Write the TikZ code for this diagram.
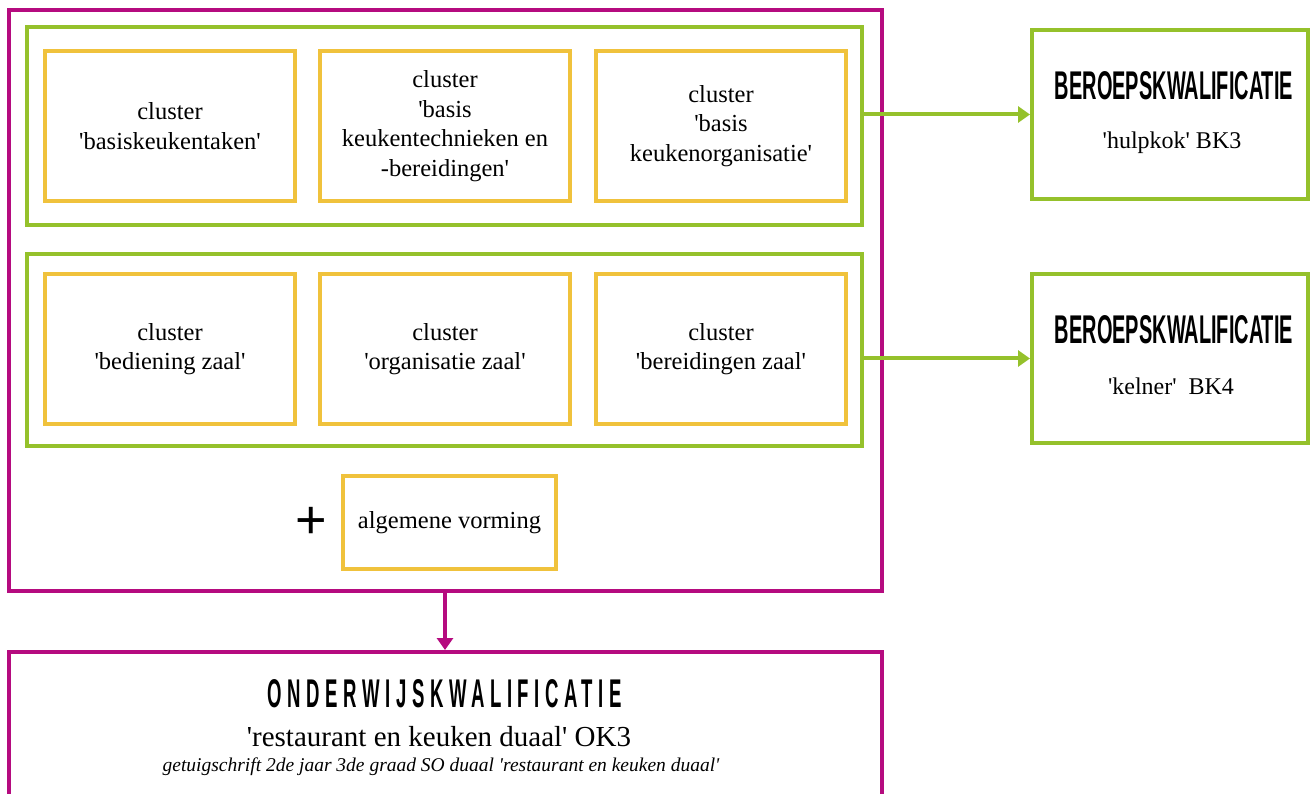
\documentclass[tikz,border=0pt]{standalone}
\usepackage{fontspec}
\setmainfont{Liberation Serif}[Ligatures=TeXOff]
\newfontfamily\kopfont{Liberation Sans}[Ligatures=TeXOff]
\newfontfamily\kopfontspatie{Liberation Sans}[Ligatures=TeXOff,LetterSpace=30]
\usetikzlibrary{arrows.meta}
\definecolor{roze}{RGB}{181,11,127}
\definecolor{groen}{RGB}{149,193,43}
\definecolor{geel}{RGB}{240,194,60}
\newcommand{\kop}[3]{\resizebox{#1}{#2}{\kopfont\bfseries #3}}
\newcommand{\kopspatie}[3]{\resizebox{#1}{#2}{\kopfontspatie\bfseries #3}}
\begin{document}
\begin{tikzpicture}[x=1pt,y=-1pt,
  kader/.style={draw=roze, line width=4pt, minimum width=873pt, inner sep=0pt},
  groep/.style={draw=groen, line width=4pt, minimum width=835pt, inner sep=0pt},
  cluster/.style={draw=geel, line width=4pt, minimum width=250pt, minimum height=150pt, align=center, inner sep=0pt, font=\fontsize{24.5}{29.5}\selectfont},
  bk/.style={draw=groen, line width=4pt, minimum width=276pt, minimum height=169pt, inner sep=0pt},
  pijl/.style={line width=4pt, -{Triangle[length=12pt,width=16pt]}}]
\clip (0,0) rectangle (1310,794);
\fill[white] (0,0) rectangle (1310,794);
\node[kader, minimum height=581pt] (school) at (445,300.5) {};
\node[groep, minimum height=198pt] (keuken) at (444.5,126) {};
\node[groep, minimum height=192pt] (zaal) at (444.5,350) {};
\node[cluster] (taken) at (170,126) {cluster\\'basiskeukentaken'};
\node[cluster] (technieken) at (445,126) {cluster\\'basis\\keukentechnieken en\\-bereidingen'};
\node[cluster] (organisatie) at (721,126) {cluster\\'basis\\keukenorganisatie'};
\node[cluster] (bediening) at (170,349) {cluster\\'bediening zaal'};
\node[cluster] (zaalorg) at (445,349) {cluster\\'organisatie zaal'};
\node[cluster] (bereidingen) at (721,349) {cluster\\'bereidingen zaal'};
\node[cluster, minimum width=213pt, minimum height=93pt] (vorming) at (449.5,522.5) {algemene vorming};
\node[font=\kopfont\fontsize{54}{54}\selectfont, inner sep=0pt] (plus) at (311,523) {+};
\node[bk] (hulpkok) at (1170,114.5) {};
\node (hulpkokkop) at (1174,85.5) {\kop{238pt}{28pt}{BEROEPSKWALIFICATIE}};
\node[font=\fontsize{24}{28}\selectfont] (hulpkokbk) at (1172,143) {'hulpkok' BK3};
\node[bk] (kelner) at (1170,358.5) {};
\node (kelnerkop) at (1174,330) {\kop{238pt}{28pt}{BEROEPSKWALIFICATIE}};
\node[font=\fontsize{24}{28}\selectfont] (kelnerbk) at (1171,386) {'kelner'\ \ BK4};
\node[kader, minimum height=180pt] (diploma) at (445,742) {};
\node (diplomakop) at (445,694) {\kopspatie{354pt}{28pt}{ONDERWIJSKWALIFICATIE}};
\node[font=\fontsize{29}{35}\selectfont] (diplomaok) at (439,737) {'restaurant en keuken duaal' OK3};
\node[font=\itshape\fontsize{19.5}{23}\selectfont] (diplomatekst) at (441,767) {getuigschrift 2de jaar 3de graad SO duaal 'restaurant en keuken duaal'};
\draw[pijl, groen] (keuken.east |- hulpkok.west) -- (hulpkok.west);
\draw[pijl, groen] (zaal.east |- kelner.west) -- (kelner.west);
\draw[pijl, roze] (school.south) -- (diploma.north);
\end{tikzpicture}
\end{document}
